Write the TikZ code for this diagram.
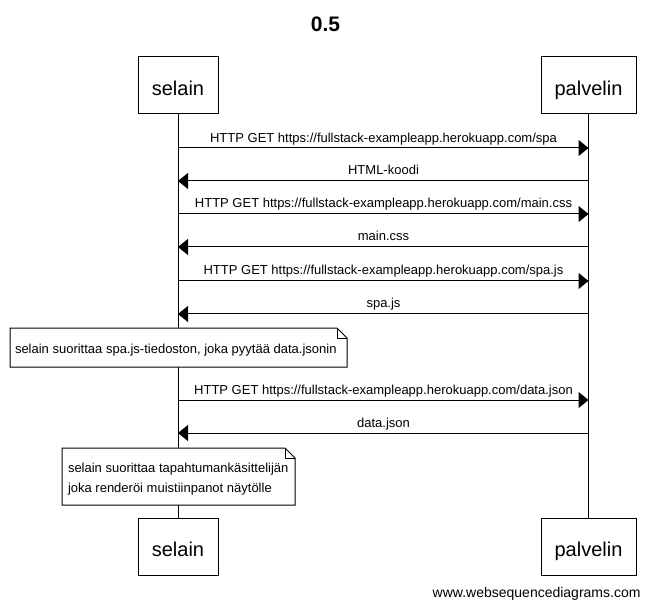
\documentclass[tikz,border=0pt]{standalone}
\usepackage{fontspec}
\setmainfont{Liberation Sans}
\usetikzlibrary{arrows.meta}
\begin{document}
\begin{tikzpicture}[x=1pt,y=-1pt,line width=1pt,
  actor/.style={draw, minimum height=57pt, inner sep=0pt, text height=20pt, text depth=0pt,
    font=\fontsize{20}{24}\selectfont},
  msg/.style={-{Triangle[length=10pt,width=16pt]}},
  lbl/.style={font=\fontsize{13}{15}\selectfont, anchor=base, inner sep=0pt},
  notetxt/.style={font=\fontsize{13}{15}\selectfont, anchor=base west, inner sep=0pt},
  fold/.style={line width=0.7pt}]
\useasboundingbox (0,0) rectangle (650,609);
% title
\node[font=\bfseries\fontsize{21}{25}\selectfont, anchor=base, inner sep=0pt] (title) at (325.5,32) {0.5};
% actors
\node[actor, minimum width=80pt] (selainTop) at (178,85.5) {selain};
\node[actor, minimum width=95pt] (palvelinTop) at (588.5,85.5) {palvelin};
\node[actor, minimum width=80pt] (selainBot) at (178,546.5) {selain};
\node[actor, minimum width=95pt] (palvelinBot) at (588.5,546.5) {palvelin};
% lifelines
\draw (selainTop.south) -- (selainBot.north);
\draw (palvelinTop.south) -- (palvelinBot.north);
% message anchor points
\foreach \n/\y in {1/148,2/181,3/214,4/247,5/281,6/314,7/400,8/433}{
  \coordinate (s\n) at (178,\y);
  \coordinate (p\n) at (588.5,\y);
}
% messages
\draw[msg] (s1) -- (p1);
\node[lbl] (l1) at (383.5,142.5) {HTTP GET https://fullstack-exampleapp.herokuapp.com/spa};
\draw[msg] (p2) -- (s2);
\node[lbl] (l2) at (383.5,175) {HTML-koodi};
\draw[msg] (s3) -- (p3);
\node[lbl] (l3) at (383.5,208) {HTTP GET https://fullstack-exampleapp.herokuapp.com/main.css};
\draw[msg] (p4) -- (s4);
\node[lbl] (l4) at (383.5,241) {main.css};
\draw[msg] (s5) -- (p5);
\node[lbl] (l5) at (383.5,275) {HTTP GET https://fullstack-exampleapp.herokuapp.com/spa.js};
\draw[msg] (p6) -- (s6);
\node[lbl] (l6) at (383.5,308) {spa.js};
% note 1
\draw[fill=white] (10,328) -- (337,328) -- (347,338) -- (347,367) -- (10,367) -- cycle;
\draw[fold] (337,328) -- (337,338) -- (347,338);
\node[notetxt] (n1) at (14.5,353) {selain suorittaa spa.js-tiedoston, joka pyytää data.jsonin};
% data.json
\draw[msg] (s7) -- (p7);
\node[lbl] (l7) at (383.5,394) {HTTP GET https://fullstack-exampleapp.herokuapp.com/data.json};
\draw[msg] (p8) -- (s8);
\node[lbl] (l8) at (383.5,427) {data.json};
% note 2
\draw[fill=white] (62,448) -- (285,448) -- (295,458) -- (295,505) -- (62,505) -- cycle;
\draw[fold] (285,448) -- (285,458) -- (295,458);
\node[notetxt] (n2a) at (67.5,472) {selain suorittaa tapahtumankäsittelijän};
\node[notetxt] (n2b) at (67.5,492) {joka renderöi muistiinpanot näytölle};
% footer
\node[font=\fontsize{14}{17}\selectfont, anchor=base east, inner sep=0pt] (footer) at (641,597) {www.websequencediagrams.com};
\end{tikzpicture}
\end{document}
